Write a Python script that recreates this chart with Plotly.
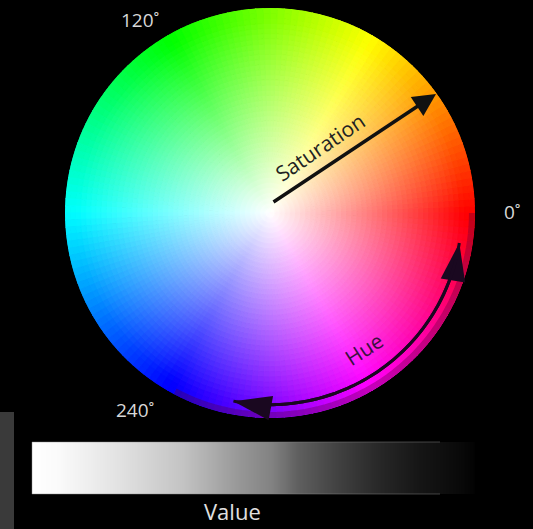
import colorsys
import plotly.graph_objects as go

W, H = 533, 529

# Hue (degrees) and saturation levels of the colour wheel
hue_step = 2
hue_degrees = list(range(0, 360, hue_step))
n_rings = 40
saturation_levels = [i / n_rings for i in range(n_rings)]
ring_width = 1 / n_rings

# Value bar: position (0..1 along the bar) and grey level
value_positions = [0.0, 0.06, 0.20, 0.34, 0.47, 0.54, 0.60, 0.69, 0.78, 0.87, 0.96, 1.0]
value_grey = [255, 250, 225, 195, 150, 130, 95, 65, 40, 22, 10, 2]

# Labels
hue_labels = ["0˚", "120˚", "240˚"]

theta, r, base, colors = [], [], [], []
for h in hue_degrees:
    for s in saturation_levels:
        sc = min(1.0, (s + ring_width / 2) * 1.05)
        rr, gg, bb = colorsys.hsv_to_rgb((h + hue_step / 2) / 360, sc, 1.0)
        theta.append(h + hue_step / 2)
        r.append(ring_width)
        base.append(s)
        colors.append(f"rgb({int(rr*255)},{int(gg*255)},{int(bb*255)})")

fig = go.Figure()
fig.add_trace(go.Barpolar(
    theta=theta, r=r, base=base, width=[hue_step] * len(theta),
    marker=dict(color=colors, line=dict(color=colors, width=1.2)),
    hoverinfo="skip", showlegend=False,
))

# darker rim in lower right
rim_theta = list(range(0, -120, -2))
fig.add_trace(go.Scatterpolar(
    theta=rim_theta, r=[0.985] * len(rim_theta), mode="lines",
    line=dict(color="rgba(90,0,60,0.35)", width=6), hoverinfo="skip", showlegend=False,
))

# Hue arc with arrowheads at both ends
arc_col = "#1a0820"
arc_fwd = list(range(-97, -8, 1))
sizes = [0] * (len(arc_fwd) - 1) + [40]
fig.add_trace(go.Scatterpolar(
    theta=arc_fwd, r=[0.935] * len(arc_fwd), mode="lines+markers",
    line=dict(color=arc_col, width=3),
    marker=dict(symbol="arrow", size=sizes, angleref="previous", color=arc_col,
                opacity=1, line=dict(width=0)),
    hoverinfo="skip", showlegend=False,
))
arc_back = list(range(-14, -102, -1))
sizes_b = [0] * (len(arc_back) - 1) + [40]
fig.add_trace(go.Scatterpolar(
    theta=arc_back, r=[0.935] * len(arc_back), mode="lines+markers",
    line=dict(color=arc_col, width=3),
    marker=dict(symbol="arrow", size=sizes_b, angleref="previous", color=arc_col,
                opacity=1, line=dict(width=0)),
    hoverinfo="skip", showlegend=False,
))

cx, cy, R = 270, 213, 205
fig.update_layout(
    width=W, height=H,
    margin=dict(l=0, r=0, t=0, b=0),
    paper_bgcolor="black", plot_bgcolor="black",
    polar=dict(
        domain=dict(x=[(cx - R) / W, (cx + R) / W], y=[1 - (cy + R) / H, 1 - (cy - R) / H]),
        bgcolor="black", bargap=0, hole=0,
        angularaxis=dict(visible=False, rotation=0, direction="counterclockwise"),
        radialaxis=dict(visible=False, range=[0, 1]),
    ),
    xaxis=dict(domain=[32 / W, 475 / W], visible=False, range=[0, 1]),
    yaxis=dict(domain=[1 - 494 / H, 1 - 442 / H], visible=False, range=[0, 1]),
    showlegend=False,
)

# Value gradient bar
cs = [[p, f"rgb({g},{g},{g})"] for p, g in zip(value_positions, value_grey)]
xs = [i / 100 for i in range(101)]
fig.add_trace(go.Heatmap(
    x=xs, y=[0, 1], z=[xs, xs], colorscale=cs, zmin=0, zmax=1,
    showscale=False, zsmooth="best", hoverinfo="skip",
))
for x0, y0, x1, y1 in [(32, 442, 440, 442), (32, 442, 32, 494), (32, 494, 440, 494)]:
    fig.add_shape(type="line", xref="paper", yref="paper",
                  x0=x0 / W, x1=x1 / W, y0=1 - y0 / H, y1=1 - y1 / H,
                  line=dict(color="rgba(140,140,140,0.45)", width=1))

fig.add_shape(type="rect", xref="paper", yref="paper",
              x0=0, x1=14 / W, y0=0, y1=1 - 412 / H,
              fillcolor="#3a3a3a", line_width=0, layer="below")

# Saturation arrow
fig.add_annotation(xref="paper", yref="paper",
                   x=436 / W, y=1 - 94 / H, ax=272 - 436, ay=203 - 94,
                   axref="pixel", ayref="pixel", text="", showarrow=True,
                   arrowhead=2, arrowsize=1.3, arrowwidth=3.5, arrowcolor="#111")


def label(txt, px, py, size, color, angle=0):
    fig.add_annotation(xref="paper", yref="paper", x=px / W, y=1 - py / H,
                       xanchor="center", yanchor="middle",
                       text=txt, showarrow=False, textangle=angle,
                       font=dict(family="Open Sans", size=size, color=color))


label("Saturation", 320, 147, 21, "#222", -34)
label("Hue", 364, 349, 21, "#3a1040", -33)

label_pos = [(512, 212), (140, 20), (135, 410)]
for txt, (px, py) in zip(hue_labels, label_pos):
    label(txt, px, py, 19, "#d8d8d8")

label("Value", 232, 511, 22, "#e0e0e0")

fig.write_html("out.html",
               config={"displayModeBar": False},
               post_script="document.body.style.margin='0';"
                           "document.body.style.overflow='hidden';")
